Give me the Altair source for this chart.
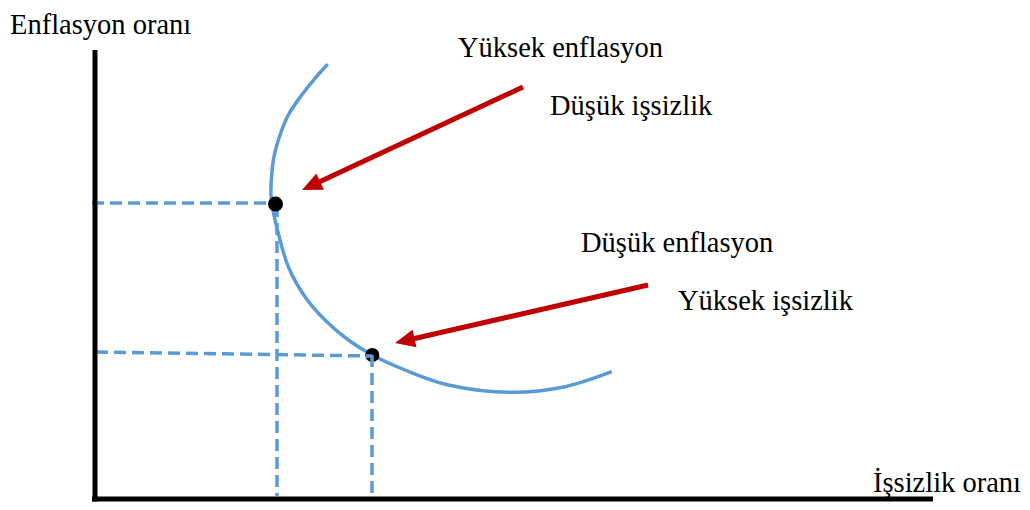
import math
import altair as alt
import pandas as pd

# ---- data (units: x = unemployment, y = inflation) ----
curve_x = [23.07, 21.8, 20.47, 19.13, 18.3, 17.73, 17.47, 17.4, 17.6, 18.13, 19.13, 20.8,
           22.8, 25.13, 27.53, 30.8, 35.13, 41.47, 46.8, 51.47]
curve_y = [43.47, 42.07, 40.4, 38.4, 36.4, 34.4, 32.4, 30.4, 28.9, 26.57, 23.23, 20.23,
           17.9, 15.9, 14.4, 12.9, 11.4, 10.67, 11.23, 12.73]

point_x = [17.85, 27.53]
point_y = [29.5, 14.4]
point_size = [225, 200]

guide_x1 = [-0.5, 18.0, -0.1, 27.5]
guide_y1 = [29.6, 29.4, 14.7, 14.4]
guide_x2 = [17.8, 18.0, 27.5, 27.5]
guide_y2 = [29.6, 0.3, 14.3, 0.3]

arrow_start_x = [42.6, 55.1]
arrow_start_y = [41.2, 21.4]
arrow_tip_x = [20.5, 29.8]
arrow_tip_y = [30.9, 15.6]

axis_x1 = [-0.2, -0.5]
axis_y1 = [44.9, 0.0]
axis_x2 = [-0.2, 83.6]
axis_y2 = [-0.25, 0.0]

labels = ["Enflasyon oranı", "Yüksek enflasyon", "Düşük işsizlik",
          "Düşük enflasyon", "Yüksek işsizlik", "İşsizlik oranı"]
label_x = [-8.7, 36.1, 45.3, 48.4, 58.1, 77.6]
label_y = [46.5, 44.2, 38.4, 24.7, 18.9, 0.7]

BLUE = "#5B9BD5"
RED = "#C00000"
FONT = "Liberation Serif"

xs = alt.Scale(domain=[-8.9, 92.5], nice=False, zero=False)
ys = alt.Scale(domain=[-0.3, 49.1], nice=False, zero=False)


def X(f):
    return alt.X(f, type="quantitative", scale=xs, axis=None)


def Y(f):
    return alt.Y(f, type="quantitative", scale=ys, axis=None)


curve_df = pd.DataFrame({"x": curve_x, "y": curve_y, "o": list(range(len(curve_x)))})
points_df = pd.DataFrame({"x": point_x, "y": point_y, "s": point_size, "k": [1, 2]})
guide_df = pd.DataFrame({"x": guide_x1, "y": guide_y1, "x2": guide_x2, "y2": guide_y2})
axis_df = pd.DataFrame({"x": axis_x1, "y": axis_y1, "x2": axis_x2, "y2": axis_y2})
label_df = pd.DataFrame({"t": labels, "x": label_x, "y": label_y})

# arrows: shaft ends at head centre; head centre sits half a head-length behind the tip
HEAD_HALF = 1.0
shaft_rows, head_rows = [], []
for sx, sy, tx, ty in zip(arrow_start_x, arrow_start_y, arrow_tip_x, arrow_tip_y):
    dx, dy = tx - sx, ty - sy
    L = math.hypot(dx, dy)
    ux, uy = dx / L, dy / L
    cx, cy = tx - ux * HEAD_HALF, ty - uy * HEAD_HALF
    ang = math.degrees(math.atan2(dx, dy)) % 360
    shaft_rows.append({"x": sx, "y": sy, "x2": cx, "y2": cy})
    head_rows.append({"x": cx, "y": cy, "a": ang})
shaft_df = pd.DataFrame(shaft_rows)
head_df = pd.DataFrame(head_rows)

curve = alt.Chart(curve_df).mark_line(
    color=BLUE, strokeWidth=3.5, interpolate="catmull-rom"
).encode(x=X("x"), y=Y("y"), order="o:Q")

dot2 = alt.Chart(points_df).transform_filter("datum.k == 2").mark_point(
    filled=True, color="black", opacity=1, shape="circle"
).encode(x=X("x"), y=Y("y"), size=alt.Size("s:Q", scale=None))

guides = alt.Chart(guide_df).mark_rule(
    color=BLUE, strokeWidth=3.5, strokeDash=[12, 6]
).encode(x=X("x"), y=Y("y"), x2="x2:Q", y2="y2:Q")

dot1 = alt.Chart(points_df).transform_filter("datum.k == 1").mark_point(
    filled=True, color="black", opacity=1, shape="circle"
).encode(x=X("x"), y=Y("y"), size=alt.Size("s:Q", scale=None))

shafts = alt.Chart(shaft_df).mark_rule(color=RED, strokeWidth=5).encode(
    x=X("x"), y=Y("y"), x2="x2:Q", y2="y2:Q"
)

heads = alt.Chart(head_df).mark_point(
    filled=True, color=RED, opacity=1, shape="M0,-1L0.9,1L-0.9,1Z", size=400
).encode(x=X("x"), y=Y("y"), angle=alt.Angle("a:Q", scale=None))

axes = alt.Chart(axis_df).mark_rule(color="black", strokeWidth=5).encode(
    x=X("x"), y=Y("y"), x2="x2:Q", y2="y2:Q"
)

texts = alt.Chart(label_df).mark_text(
    align="left", baseline="alphabetic", font=FONT, fontSize=28.5, color="black"
).encode(x=X("x"), y=Y("y"), text="t:N")

chart = alt.layer(curve, dot2, guides, dot1, shafts, heads, axes, texts).properties(
    width=1014, height=494, padding=0, autosize=alt.AutoSizeParams(type="none"),
    background="white",
).configure_view(stroke=None)

chart.save("out.html", embed_options={"renderer": "svg", "actions": False})
